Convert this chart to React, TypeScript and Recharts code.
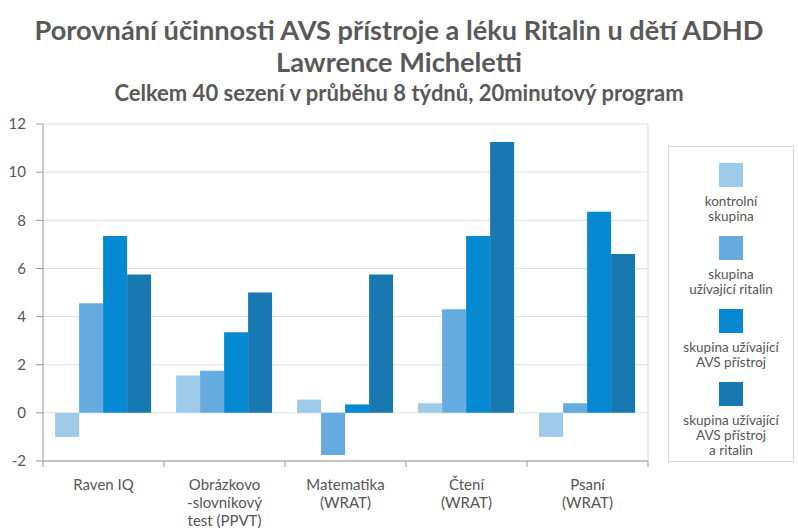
import { Bar, BarChart, CartesianGrid, XAxis, YAxis } from "recharts"

const categories = ["Raven IQ", "Obrázkovo\n-slovníkový\ntest (PPVT)", "Matematika\n(WRAT)", "Čtení\n(WRAT)", "Psaní\n(WRAT)"]
const kontrolni = [-1.0, 1.55, 0.55, 0.4, -1.0]
const ritalin = [4.55, 1.75, -1.75, 4.3, 0.4]
const avs = [7.35, 3.35, 0.35, 7.35, 8.35]
const avsRitalin = [5.75, 5.0, 5.75, 11.25, 6.6]
const yTicks = [-2, 0, 2, 4, 6, 8, 10, 12]

const series = [
  { key: "kontrolni", name: "kontrolní\nskupina", color: "#9fcbeb" },
  { key: "ritalin", name: "skupina\nužívající ritalin", color: "#66abdf" },
  { key: "avs", name: "skupina užívající\nAVS přístroj", color: "#0589d3" },
  { key: "avsRitalin", name: "skupina užívající\nAVS přístroj\na ritalin", color: "#1878b1" },
]

const data = categories.map((name, i) => ({
  name,
  kontrolni: kontrolni[i],
  ritalin: ritalin[i],
  avs: avs[i],
  avsRitalin: avsRitalin[i],
}))

const font = "Lato, 'Open Sans', sans-serif"
const textColor = "#555"
const axisColor = "#999"
const halfBand = 60.5

function XTick(props: any) {
  const { x, y, payload, index } = props
  const lines = String(payload.value).split("\n")
  return (
    <g>
      <line x1={x - halfBand} x2={x - halfBand} y1={y} y2={y + 6} stroke={axisColor} />
      {index === categories.length - 1 && (
        <line x1={x + halfBand} x2={x + halfBand} y1={y} y2={y + 6} stroke={axisColor} />
      )}
      <text x={x} y={y + 29} textAnchor="middle" fill={textColor} fontSize={15} fontFamily={font}>
        {lines.map((l, i) => (
          <tspan key={i} x={x} dy={i === 0 ? 0 : 18}>
            {l}
          </tspan>
        ))}
      </text>
    </g>
  )
}

function LegendBox() {
  return (
    <div
      style={{
        position: "absolute",
        left: 668,
        top: 146,
        width: 126,
        height: 316,
        border: "1px solid #d8d8d8",
        boxSizing: "border-box",
        fontFamily: font,
        fontSize: 13.5,
        color: textColor,
        textAlign: "center",
        paddingTop: 16,
      }}
    >
      {series.map((s) => (
        <div key={s.key} style={{ height: 73 }}>
          <div style={{ width: 24, height: 24, background: s.color, margin: "0 auto 7px" }} />
          {s.name.split("\n").map((l, i) => (
            <div key={i} style={{ lineHeight: "15px" }}>
              {l}
            </div>
          ))}
        </div>
      ))}
    </div>
  )
}

export default function App() {
  return (
    <div style={{ position: "absolute", left: 0, top: 0, width: 798, height: 528, background: "#fff" }}>
      <div
        style={{
          position: "absolute",
          left: 0,
          top: 14,
          width: 798,
          textAlign: "center",
          fontFamily: font,
          fontWeight: "bold",
          color: "#595959",
        }}
      >
        <div style={{ fontSize: 27.2, lineHeight: "32px" }}>Porovnání účinnosti AVS přístroje a léku Ritalin u dětí ADHD</div>
        <div style={{ fontSize: 27.2, lineHeight: "32px" }}>Lawrence Micheletti</div>
        <div style={{ fontSize: 22, lineHeight: "29px" }}>Celkem 40 sezení v průběhu 8 týdnů, 20minutový program</div>
      </div>
      <div style={{ position: "absolute", left: 0, top: 0 }}>
        <BarChart
          width={798}
          height={528}
          data={data}
          margin={{ top: 124, right: 149, bottom: 0, left: 0 }}
          barCategoryGap="10%"
          barGap={0}
        >
          <CartesianGrid vertical={false} stroke="#dedede" />
          <XAxis
            dataKey="name"
            tick={<XTick />}
            tickLine={false}
            tickSize={0}
            tickMargin={0}
            axisLine={{ stroke: axisColor }}
            interval={0}
            height={67}
          />
          <YAxis
            domain={[-2, 12]}
            ticks={yTicks}
            width={43}
            tickSize={7}
            tickMargin={10}
            tick={{ fill: textColor, fontSize: 15, fontFamily: font }}
            tickLine={{ stroke: axisColor }}
            axisLine={{ stroke: axisColor }}
          />
          <YAxis
            yAxisId="right"
            orientation="right"
            domain={[-2, 12]}
            width={1}
            tick={false}
            tickLine={false}
            axisLine={{ stroke: "#d8d8d8" }}
          />
          {series.map((s) => (
            <Bar key={s.key} dataKey={s.key} name={s.name} fill={s.color} isAnimationActive={false} />
          ))}
        </BarChart>
      </div>
      <LegendBox />
    </div>
  )
}
